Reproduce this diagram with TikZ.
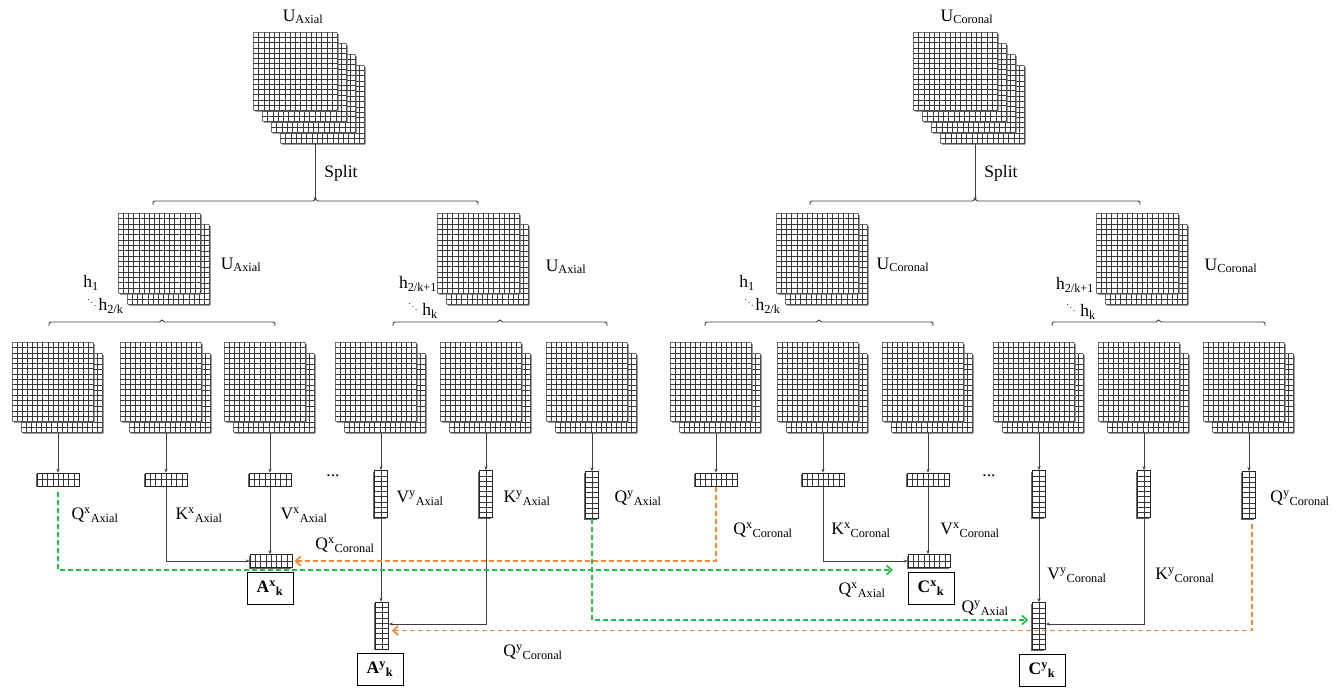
\documentclass[tikz,border=0pt]{standalone}
\usepackage{fontspec}
\setmainfont{Liberation Serif}
\usetikzlibrary{calc,arrows.meta,shadows}
\definecolor{dgreen}{RGB}{34,190,70}
\definecolor{dorange}{RGB}{242,140,58}
\newcommand\flatbrace[3]{\draw[brline] ({#1},{#3+4}) .. controls ({#1},{#3}) .. ({#1+4},{#3}) -- ({(#1+#2)/2-2.5},{#3}) -- ({(#1+#2)/2},{#3-2}) -- ({(#1+#2)/2+2.5},{#3}) -- ({#2-4},{#3}) .. controls ({#2},{#3}) .. ({#2},{#3+4});}
\newcommand\lowstack[2]{%
  \node[lowpanel] (#1-sb) at ({#2-37},353) {};
  \node[lowpanel] (#1-sf) at ({#2-46},342) {};}
\newcommand\midstack[2]{%
  \node[midpanel] (#1-b) at ({#2+9},224) {};
  \node[midpanel] (#1-f) at ({#2},213) {};}
\begin{document}
\begin{tikzpicture}[x=1pt,y=-1pt,
  gline/.style={black!78, line width=0.35pt},
  gridded/.style n args={4}{path picture={
    \foreach \k in {1,...,#1}{\draw[gline] ($(path picture bounding box.north west)!\k/#2!(path picture bounding box.north east)$) -- ($(path picture bounding box.south west)!\k/#2!(path picture bounding box.south east)$);}
    \foreach \k in {1,...,#3}{\draw[gline] ($(path picture bounding box.north west)!\k/#4!(path picture bounding box.south west)$) -- ($(path picture bounding box.north east)!\k/#4!(path picture bounding box.south east)$);}
  }},
  panelbase/.style={rectangle, draw=black!85, fill=white, line width=0.5pt, inner sep=0pt, anchor=north west, rounded corners=0.8pt,
    drop shadow={shadow xshift=1.3pt, shadow yshift=-1.3pt, fill=black!60, opacity=1}, gridded={15}{16}{14}{15}},
  toppanel/.style={panelbase, minimum width=84pt, minimum height=78pt},
  midpanel/.style={panelbase, minimum width=82pt, minimum height=80pt},
  lowpanel/.style={panelbase, minimum width=81pt, minimum height=79pt},
  barbase/.style={rectangle, draw=black!85, fill=white, line width=0.5pt, inner sep=0pt,
    drop shadow={shadow xshift=-1.3pt, shadow yshift=-1.3pt, fill=black!60, opacity=1}},
  hbar/.style={barbase, minimum width=42pt, minimum height=13pt, gridded={7}{8}{1}{2}},
  vbar/.style={barbase, minimum width=13pt, minimum height=47pt, gridded={1}{2}{8}{9}},
  resbox/.style={rectangle, draw=black, line width=0.9pt, fill=white, minimum width=46pt, minimum height=32pt, inner sep=0pt, font=\fontsize{17.5}{20}\selectfont\bfseries},
  lab/.style={font=\fontsize{17.5}{20}\selectfont, inner sep=0pt},
  dotlab/.style={font=\fontsize{9}{9}\selectfont, inner sep=0pt},
  conn/.style={black!75, line width=0.7pt},
  arr/.style={-{Stealth[length=4pt,width=3pt]}},
  brline/.style={black!75, line width=0.9pt},
  gdash/.style={dgreen, line width=1.8pt, dash pattern=on 5pt off 3pt, -{Straight Barb[length=5pt,width=9pt]}},
  odash/.style={dorange, line width=1.8pt, dash pattern=on 5pt off 3pt, -{Straight Barb[length=5pt,width=9pt]}},
]
\useasboundingbox (0,0) rectangle (1341,689);

% ---------- top stacks ----------
\foreach \i in {3,2,1,0}{\node[toppanel] (tA\i) at ({253+9*\i},{32+11*\i}) {};}
\foreach \i in {3,2,1,0}{\node[toppanel] (tC\i) at ({913+9*\i},{32+11*\i}) {};}
\node[lab] (uA) at (303,17) {U\textsubscript{Axial}};
\node[lab] (uC) at (967,17) {U\textsubscript{Coronal}};

\coordinate (spA) at (315,201);
\coordinate (spC) at (975,201);
\draw[conn,arr] (tA3.south -| spA) -- (spA);
\draw[conn,arr] (tC3.south -| spC) -- (spC);
\node[lab] (splA) at (341,173) {Split};
\node[lab] (splC) at (1001,173) {Split};
\flatbrace{153}{478}{201}
\flatbrace{810}{1140}{201}

% ---------- middle stacks ----------
\midstack{mA1}{118}
\midstack{mA2}{437}
\midstack{mC1}{776}
\midstack{mC2}{1096}
\node[lab] (umA1) at (241,265) {U\textsubscript{Axial}};
\node[lab] (umA2) at (566,267) {U\textsubscript{Axial}};
\node[lab] (umC1) at (903,265) {U\textsubscript{Coronal}};
\node[lab] (umC2) at (1231,266) {U\textsubscript{Coronal}};

\node[lab] (hA1) at (91,283) {h\textsubscript{1}};
\node[dotlab] (dA1) at (92,300) {$\ddots$};
\node[lab] (hA2) at (111,306) {h\textsubscript{2/k}};
\node[lab] (hA3) at (418,284) {h\textsubscript{2/k+1}};
\node[dotlab] (dA2) at (413,304) {$\ddots$};
\node[lab] (hA4) at (430,311) {h\textsubscript{k}};
\node[lab] (hC1) at (747,283) {h\textsubscript{1}};
\node[dotlab] (dC1) at (749,300) {$\ddots$};
\node[lab] (hC2) at (768,306) {h\textsubscript{2/k}};
\node[lab] (hC3) at (1075,285) {h\textsubscript{2/k+1}};
\node[dotlab] (dC2) at (1071,305) {$\ddots$};
\node[lab] (hC4) at (1088,312) {h\textsubscript{k}};

\flatbrace{49}{275}{322}
\flatbrace{393}{607}{322}
\flatbrace{705}{933}{322}
\flatbrace{1052}{1265}{322}

% ---------- bottom stacks ----------
\lowstack{qxa}{58}
\lowstack{kxa}{166}
\lowstack{vxa}{270}
\lowstack{vya}{381}
\lowstack{kya}{486}
\lowstack{qya}{592}
\lowstack{qxc}{716}
\lowstack{kxc}{823}
\lowstack{vxc}{928}
\lowstack{vyc}{1039}
\lowstack{kyc}{1144}
\lowstack{qyc}{1249}

% ---------- vectors ----------
\node[hbar] (qxa) at (58,479.5) {};
\node[hbar] (kxa) at (166,479.5) {};
\node[hbar] (vxa) at (270,479.5) {};
\node[vbar] (vya) at (381,494) {};
\node[vbar] (kya) at (486,494) {};
\node[vbar] (qya) at (592,495) {};
\node[hbar] (qxc) at (716,479.5) {};
\node[hbar] (kxc) at (823,479.5) {};
\node[hbar] (vxc) at (928,479.5) {};
\node[vbar] (vyc) at (1039,494) {};
\node[vbar] (kyc) at (1144,494) {};
\node[vbar] (qyc) at (1249,495) {};

\foreach \b in {qxa,kxa,vxa,vya,kya,qya,qxc,kxc,vxc,vyc,kyc,qyc}{
  \draw[conn,arr] (\b-sb.south -| \b) -- (\b.north);}

% ---------- results ----------
\node[hbar] (axk) at (271,561) {};
\node[resbox] (axkl) at (270,588) {A\textsuperscript{x}\textsubscript{k}};
\node[vbar] (ayk) at (382,625.5) {};
\node[resbox] (aykl) at (380,669) {A\textsuperscript{y}\textsubscript{k}};
\node[hbar] (cxk) at (929,561) {};
\node[resbox] (cxkl) at (931,588) {C\textsuperscript{x}\textsubscript{k}};
\node[vbar] (cyk) at (1039,626) {};
\node[resbox] (cykl) at (1042,670) {C\textsuperscript{y}\textsubscript{k}};

% ---------- connectors ----------
\coordinate (gxend) at (893,570);
\draw[conn,arr] (kxa.south) |- (axk.west);
\draw[conn,arr] (vxa.south) -- (vxa.south |- axk.north);
\draw[conn,arr] (vya.south) -- (vya.south |- ayk.north);
\draw[conn,arr] (kya.south) |- ([yshift=1.5pt]ayk.east);
\draw[conn,arr] (kxc.south) |- (cxk.west);
\draw[conn,arr] (vxc.south) -- (vxc.south |- cxk.north);
\draw[conn,arr] (vyc.south) -- (cyk.north);
\draw[conn,arr] (kyc.south) |- ([yshift=2pt]cyk.east);

\draw[odash] ([yshift=-1pt]qxc.south) |- ([xshift=2pt]axk.east);
\draw[gdash] ([yshift=-6pt]qxa.south) |- (gxend);
\draw[gdash] (qya.south) |- ([xshift=-4pt,yshift=6pt]cyk.west);
\draw[odash] ([xshift=3pt,yshift=-5pt]qyc.south) |- ([xshift=3pt,yshift=-5pt]ayk.east);

% ---------- labels ----------
\node[lab] (lqxa) at (95,515) {Q\textsuperscript{x}\textsubscript{Axial}};
\node[lab] (lkxa) at (199,515) {K\textsuperscript{x}\textsubscript{Axial}};
\node[lab] (lvxa) at (304,515) {V\textsuperscript{x}\textsubscript{Axial}};
\node[lab] (lqxc1) at (345,545) {Q\textsuperscript{x}\textsubscript{Coronal}};
\node[lab] (dots1) at (333,476) {...};
\node[lab] (dots2) at (989,476) {...};
\node[lab] (lvya) at (420,498) {V\textsuperscript{y}\textsubscript{Axial}};
\node[lab] (lkya) at (527,498) {K\textsuperscript{y}\textsubscript{Axial}};
\node[lab] (lqya) at (638,498) {Q\textsuperscript{y}\textsubscript{Axial}};
\node[lab] (lqyc1) at (533,652) {Q\textsuperscript{y}\textsubscript{Coronal}};
\node[lab] (lqxc) at (763,530) {Q\textsuperscript{x}\textsubscript{Coronal}};
\node[lab] (lkxc) at (861,530) {K\textsuperscript{x}\textsubscript{Coronal}};
\node[lab] (lvxc) at (970,530) {V\textsuperscript{x}\textsubscript{Coronal}};
\node[lab] (lqxa2) at (862,590) {Q\textsuperscript{x}\textsubscript{Axial}};
\node[lab] (lqya2) at (985,608) {Q\textsuperscript{y}\textsubscript{Axial}};
\node[lab] (lvyc) at (1077,575) {V\textsuperscript{y}\textsubscript{Coronal}};
\node[lab] (lkyc) at (1185,575) {K\textsuperscript{y}\textsubscript{Coronal}};
\node[lab] (lqyc) at (1300,498) {Q\textsuperscript{y}\textsubscript{Coronal}};
\end{tikzpicture}
\end{document}
